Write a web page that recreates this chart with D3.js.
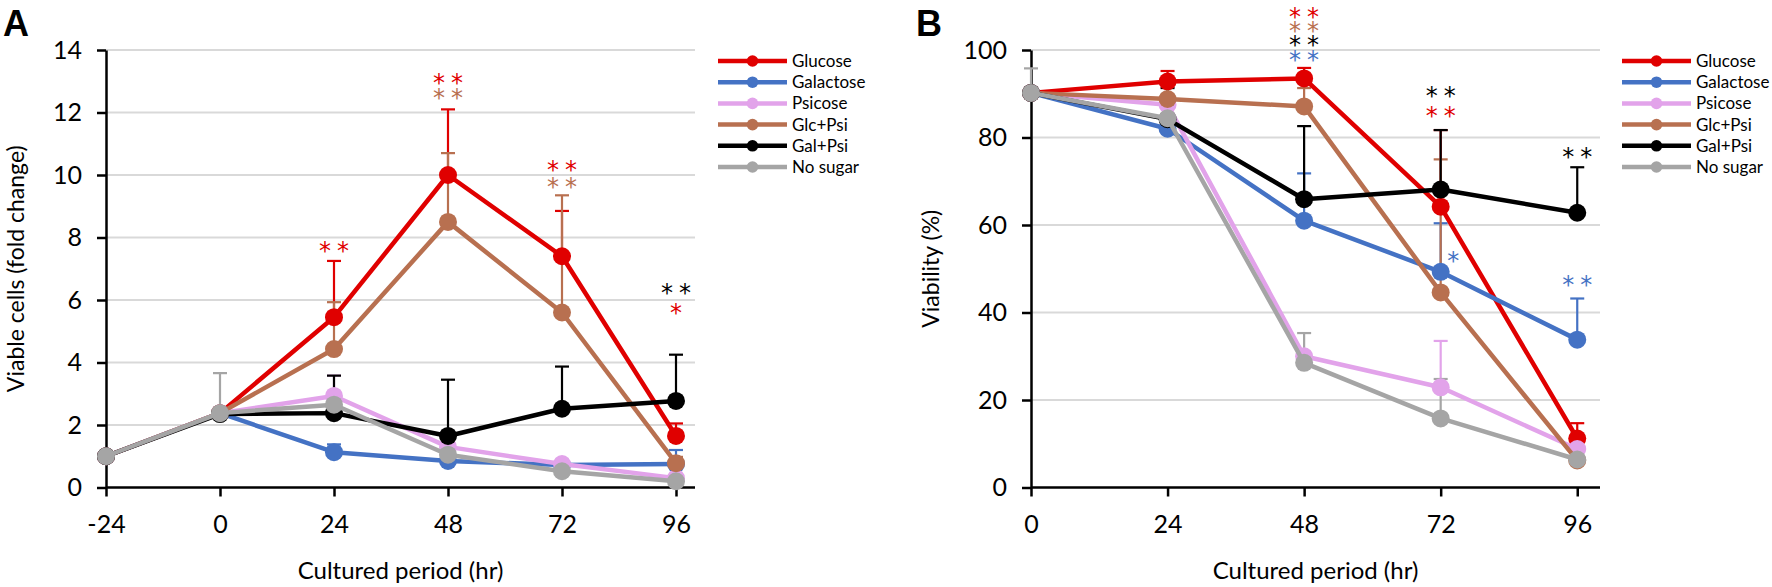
<!DOCTYPE html>
<html><head><meta charset="utf-8">
<script src="https://cdn.jsdelivr.net/npm/d3@7"></script>
<style>
body{margin:0;background:#fff;}
</style>
</head><body>
<svg id="chart" width="1772" height="587" style="font-family:Lato,'Open Sans',sans-serif"></svg>
<script>
// ---------- data ----------
const seriesNames  = ["Glucose", "Galactose", "Psicose", "Glc+Psi", "Gal+Psi", "No sugar"];
const seriesColors = ["#e00000", "#4472c4", "#e2a3ea", "#b87050", "#000000", "#a5a5a5"];

// Panel A: viable cells (fold change)
const hoursA = [-24, 0, 24, 48, 72, 96];
const ticksAx = [-24, 0, 24, 48, 72, 96];
const ticksAy = [0, 2, 4, 6, 8, 10, 12, 14];
const glucoseA   = [1.0, 2.38, 5.45, 10.0, 7.4, 1.65];
const galactoseA = [1.0, 2.38, 1.13, 0.85, 0.72, 0.75];
const psicoseA   = [1.0, 2.38, 2.93, 1.30, 0.75, 0.30];
const glcPsiA    = [1.0, 2.38, 4.43, 8.5, 5.6, 0.78];
const galPsiA    = [1.0, 2.35, 2.38, 1.65, 2.52, 2.77];
const noSugarA   = [1.0, 2.38, 2.65, 1.05, 0.52, 0.20];
const glucoseErrA   = [0, 0, 1.80, 2.10, 1.45, 0.40];
const galactoseErrA = [0, 0, 0.25, 0.10, 0.10, 0.45];
const psicoseErrA   = [0, 0, 0.65, 0.10, 0.10, 0.10];
const glcPsiErrA    = [0, 0, 1.50, 2.20, 3.75, 0.20];
const galPsiErrA    = [0, 0, 1.20, 1.80, 1.35, 1.48];
const noSugarErrA   = [0, 1.28, 0.10, 0.10, 0.10, 0.10];
// significance marks A: [hour, level (y value), series index, text]
const starsA = [
  [24, 7.73, 0, "**"],
  [48, 13.10, 0, "**"], [48, 12.62, 3, "**"],
  [72, 10.32, 0, "**"], [72, 9.78, 3, "**"],
  [96, 6.40, 4, "**"], [96, 5.74, 0, "*"]
];

// Panel B: viability (%)
const hoursB = [0, 24, 48, 72, 96];
const ticksBx = [0, 24, 48, 72, 96];
const ticksBy = [0, 20, 40, 60, 80, 100];
const glucoseB   = [90.2, 92.8, 93.5, 64.2, 11.2];
const galactoseB = [90.2, 82.0, 61.0, 49.3, 33.8];
const psicoseB   = [90.2, 87.5, 30.0, 22.9, 8.8];
const glcPsiB    = [90.2, 88.8, 87.1, 44.6, 6.2];
const galPsiB    = [90.2, 84.2, 65.9, 68.1, 62.8];
const noSugarB   = [90.2, 84.4, 28.5, 15.8, 6.4];
const glucoseErrB   = [0, 2.4, 2.4, 17.5, 3.5];
const galactoseErrB = [0, 1.0, 10.8, 11.1, 9.4];
const psicoseErrB   = [0, 1.0, 1.0, 10.6, 1.0];
const glcPsiErrB    = [0, 1.0, 4.2, 30.4, 1.0];
const galPsiErrB    = [0, 7.1, 16.7, 13.6, 10.4];
const noSugarErrB   = [5.6, 1.0, 6.8, 9.0, 1.0];
const starsB = [
  [48, 108.7, 0, "**"], [48, 105.5, 3, "**"], [48, 102.3, 4, "**"], [48, 99.0, 1, "**"],
  [72, 90.6, 4, "**"], [72, 86.1, 0, "**"],
  [74.2, 52.9, 1, "*"],
  [96, 76.7, 4, "**"], [96, 47.4, 1, "**"]
];

// ---------- drawing ----------
const svg = d3.select("#chart");

function drawPanel(cfg) {
  const g = svg.append("g");
  const x = d3.scaleLinear().domain(cfg.xDomain).range([cfg.left, cfg.right]);
  const y = d3.scaleLinear().domain(cfg.yDomain).range([cfg.bottom, cfg.top]);

  // gridlines
  g.append("g").selectAll("line").data(cfg.yTicks.filter(d => d > 0)).join("line")
    .attr("x1", cfg.left).attr("x2", cfg.right)
    .attr("y1", d => y(d)).attr("y2", d => y(d))
    .attr("stroke", "#d9d9d9").attr("stroke-width", 2);

  // axes
  const fmt = d => String(d);
  const yAxis = d3.axisLeft(y).tickValues(cfg.yTicks).tickFormat(fmt).tickSize(9).tickPadding(15).tickSizeOuter(0);
  const gy = g.append("g").attr("transform", `translate(${cfg.left},0)`).call(yAxis);
  const xAxis = d3.axisBottom(x).tickValues(cfg.xTicks).tickFormat(fmt).tickSize(9).tickPadding(19).tickSizeOuter(0);
  const gx = g.append("g").attr("transform", `translate(0,${cfg.bottom})`).call(xAxis);
  [gx, gy].forEach(a => {
    a.attr("font-family", null).attr("font-size", null);
    a.select(".domain").attr("stroke", "#000").attr("stroke-width", 2.5);
    a.selectAll(".tick line").attr("stroke", "#000").attr("stroke-width", 2.5);
    a.selectAll(".tick text").style("font-family", "Lato").style("font-size", "25px").attr("fill", "#000");
  });
  gx.select(".domain").attr("d", `M${cfg.left},0H${cfg.right}`);

  // error bars (plus direction)
  const eg = g.append("g");
  cfg.series.forEach((s, si) => {
    s.values.forEach((v, i) => {
      const e = s.err[i];
      if (!e) return;
      const cx = x(cfg.hours[i]);
      const col = seriesColors[si];
      eg.append("line").attr("x1", cx).attr("x2", cx).attr("y1", y(v)).attr("y2", y(v + e))
        .attr("stroke", col).attr("stroke-width", 2.2);
      eg.append("line").attr("x1", cx - 7).attr("x2", cx + 7).attr("y1", y(v + e)).attr("y2", y(v + e))
        .attr("stroke", col).attr("stroke-width", 2.2);
    });
  });

  // lines + markers
  const line = d3.line().x(d => x(d[0])).y(d => y(d[1]));
  cfg.series.forEach((s, si) => {
    const pts = s.values.map((v, i) => [cfg.hours[i], v]);
    g.append("path").attr("d", line(pts)).attr("fill", "none")
      .attr("stroke", seriesColors[si]).attr("stroke-width", 4.5).attr("stroke-linejoin", "round");
    g.append("g").selectAll("circle").data(pts).join("circle")
      .attr("cx", d => x(d[0])).attr("cy", d => y(d[1])).attr("r", 9)
      .attr("fill", seriesColors[si]);
  });

  // significance stars: one text per column, one coloured tspan per row
  const fs = 24;
  const groups = d3.groups(cfg.stars, d => d[0]);
  groups.forEach(([hour, rows]) => {
    const t = g.append("text").attr("text-anchor", "middle")
      .style("font-family", "'DejaVu Sans'").style("font-size", fs + "px");
    rows.forEach(st => {
      const two = st[3].length > 1;
      t.append("tspan").attr("x", x(hour) + (two ? 3 : 0)).attr("y", y(st[1]) + 0.55 * fs)
        .attr("letter-spacing", two ? 6 : 0)
        .attr("fill", seriesColors[st[2]]).text(st[3]);
    });
  });

  // legend
  const lg = g.append("g");
  seriesNames.forEach((n, i) => {
    const ly = cfg.legendTop + i * 21.2;
    lg.append("line").attr("x1", cfg.legendX).attr("x2", cfg.legendX + 69).attr("y1", ly).attr("y2", ly)
      .attr("stroke", seriesColors[i]).attr("stroke-width", 4.5);
    lg.append("circle").attr("cx", cfg.legendX + 34.5).attr("cy", ly).attr("r", 5.8).attr("fill", seriesColors[i]);
    lg.append("text").attr("x", cfg.legendX + 74).attr("y", ly + 6).style("font-size", "17px").attr("fill", "#000").text(n);
  });

  // titles
  g.append("text").attr("transform", `translate(${cfg.yTitleX},${(cfg.top + cfg.bottom) / 2}) rotate(-90)`)
    .attr("text-anchor", "middle").style("font-size", "23px").attr("fill", "#000").text(cfg.yTitle);
  g.append("text").attr("x", (cfg.left + cfg.right) / 2).attr("y", 579)
    .attr("text-anchor", "middle").style("font-size", "24px").attr("fill", "#000").text("Cultured period (hr)");
  g.append("text").attr("x", cfg.labelX).attr("y", 36)
    .style("font-family", "'Liberation Sans', Arial, sans-serif")
    .style("font-weight", "bold").style("font-size", "36px").attr("fill", "#000").text(cfg.label);
}

drawPanel({
  label: "A", labelX: 3, yTitle: "Viable cells (fold change)", yTitleX: 24,
  left: 106, right: 695, top: 50, bottom: 487.5,
  xDomain: [-24, 100], yDomain: [0, 14], xTicks: ticksAx, yTicks: ticksAy, hours: hoursA,
  legendX: 718, legendTop: 61,
  series: [
    {values: glucoseA, err: glucoseErrA}, {values: galactoseA, err: galactoseErrA},
    {values: psicoseA, err: psicoseErrA}, {values: glcPsiA, err: glcPsiErrA},
    {values: galPsiA, err: galPsiErrA}, {values: noSugarA, err: noSugarErrA}
  ],
  stars: starsA
});

drawPanel({
  label: "B", labelX: 916, yTitle: "Viability (%)", yTitleX: 939,
  left: 1031, right: 1600, top: 50, bottom: 487.5,
  xDomain: [0, 100], yDomain: [0, 100], xTicks: ticksBx, yTicks: ticksBy, hours: hoursB,
  legendX: 1622, legendTop: 61,
  series: [
    {values: glucoseB, err: glucoseErrB}, {values: galactoseB, err: galactoseErrB},
    {values: psicoseB, err: psicoseErrB}, {values: glcPsiB, err: glcPsiErrB},
    {values: galPsiB, err: galPsiErrB}, {values: noSugarB, err: noSugarErrB}
  ],
  stars: starsB
});
</script>
</body></html>
